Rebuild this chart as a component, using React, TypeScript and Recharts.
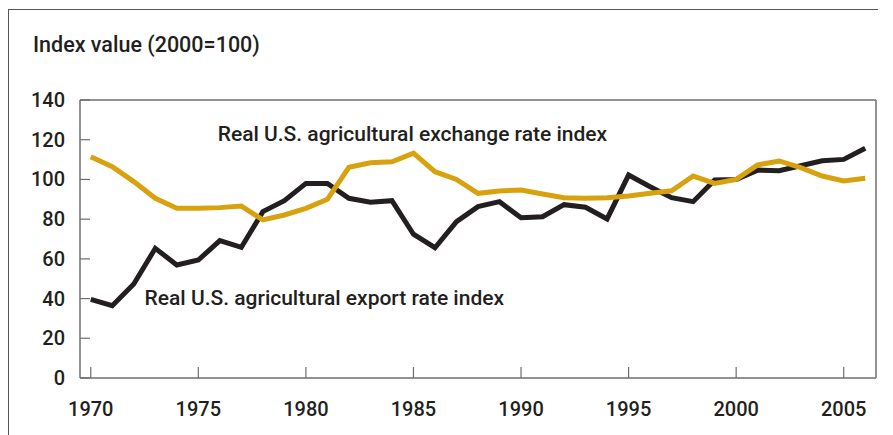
import React from 'react';
import { LineChart, Line, XAxis, YAxis, ReferenceDot } from 'recharts';

const years = [
  1970, 1971, 1972, 1973, 1974, 1975, 1976, 1977, 1978, 1979,
  1980, 1981, 1982, 1983, 1984, 1985, 1986, 1987, 1988, 1989,
  1990, 1991, 1992, 1993, 1994, 1995, 1996, 1997, 1998, 1999,
  2000, 2001, 2002, 2003, 2004, 2005, 2006,
];

const exchangeIndex = [
  111.4, 106.4, 98.9, 90.5, 85.5, 85.5, 85.8, 86.6, 79.6, 82.1,
  85.4, 90.0, 106.1, 108.4, 108.9, 113.2, 103.9, 100.0, 93.0, 94.2,
  94.7, 92.7, 90.8, 90.5, 90.8, 91.7, 93.0, 94.3, 101.7, 98.0,
  100.0, 107.3, 109.3, 105.9, 101.7, 99.2, 100.6,
];

const exportIndex = [
  39.6, 36.4, 47.3, 65.3, 56.9, 59.4, 69.2, 65.8, 83.8, 89.3,
  98.0, 98.0, 90.5, 88.5, 89.3, 72.4, 65.6, 78.7, 86.3, 88.8,
  80.7, 81.2, 87.3, 86.0, 80.1, 102.2, 96.3, 90.8, 88.8, 99.7,
  100.0, 104.7, 104.4, 106.9, 109.4, 110.1, 115.7,
];

const yTicks = [0, 20, 40, 60, 80, 100, 120, 140];
const xTicks = [1970, 1975, 1980, 1985, 1990, 1995, 2000, 2005];

const titleText = 'Index value (2000=100)';
const exchangeLabel = 'Real U.S. agricultural exchange rate index';
const exportLabel = 'Real U.S. agricultural export rate index';
const exchangeLabelAt = { year: 1975.9, value: 122.9 };
const exportLabelAt = { year: 1972.5, value: 40.3 };

const data = years.map((year, i) => ({
  year,
  exchange: exchangeIndex[i],
  exportIdx: exportIndex[i],
}));

const FONT = 'Roboto, "Noto Sans", sans-serif';
const TEXT = '#231f20';
const FRAME = '#6d6e71';
const GOLD = '#d8a20e';
const BLACK = '#231f20';

const YTick = (props: any) => {
  const { x, y, payload } = props;
  return (
    <g>
      <line x1={x} x2={x + 10} y1={y} y2={y} stroke={FRAME} strokeWidth={1.2} />
      <text x={x - 15} y={y} textAnchor="end" dominantBaseline="central" fontFamily={FONT} fontSize={20} fontWeight={500} fill={TEXT}>
        {payload.value}
      </text>
    </g>
  );
};

const XTick = (props: any) => {
  const { x, y, payload } = props;
  return (
    <g>
      <line x1={x} x2={x} y1={y - 11} y2={y} stroke={FRAME} strokeWidth={1.2} />
      <text x={x} y={y + 31} textAnchor="middle" dominantBaseline="central" fontFamily={FONT} fontSize={20} fontWeight={500} fill={TEXT}>
        {payload.value}
      </text>
    </g>
  );
};

const makeLabel = (text: string) => (props: any) => {
  const vb = props.viewBox || {};
  const x = (vb.x ?? 0) + (vb.width ?? 0) / 2;
  const y = (vb.y ?? 0) + (vb.height ?? 0) / 2;
  return (
    <text x={x} y={y} textAnchor="start" dominantBaseline="central" fontFamily={FONT} fontSize={21} fontWeight={500} fill={TEXT}>
      {text}
    </text>
  );
};

export default function App() {
  return (
    <div style={{ position: 'absolute', left: 0, top: 0, width: 893, height: 435, background: '#fff' }}>
      <div style={{ position: 'absolute', left: 8, top: 9, width: 869, height: 426, borderLeft: '1.5px solid #555', borderTop: '1.5px solid #555' }} />
      <div style={{ position: 'absolute', left: 33, top: 31, fontFamily: FONT, fontSize: 21.5, fontWeight: 500, color: TEXT, whiteSpace: 'nowrap', lineHeight: '28px' }}>
        {titleText}
      </div>
      <div style={{ position: 'absolute', left: 0, top: 0 }}>
        <LineChart width={893} height={435} data={data} margin={{ top: 99, right: 16, bottom: 56, left: 0 }}>
          <XAxis
            dataKey="year"
            type="number"
            domain={[1969.5, 2006.5]}
            ticks={xTicks}
            height={1}
            tickSize={0}
            tickMargin={0}
            tickLine={false}
            axisLine={{ stroke: FRAME, strokeWidth: 1.5 }}
            tick={<XTick />}
            interval={0}
            allowDataOverflow
          />
          <XAxis xAxisId="top" orientation="top" dataKey="year" type="number" domain={[1969.5, 2006.5]} height={1} tick={false} tickLine={false} axisLine={{ stroke: FRAME, strokeWidth: 1.5 }} />
          <YAxis
            domain={[0, 140]}
            ticks={yTicks}
            width={80}
            tickSize={0}
            tickMargin={0}
            tickLine={false}
            axisLine={{ stroke: FRAME, strokeWidth: 1.5 }}
            tick={<YTick />}
            interval={0}
          />
          <YAxis yAxisId="right" orientation="right" domain={[0, 140]} width={1} tick={false} tickLine={false} axisLine={{ stroke: FRAME, strokeWidth: 1.5 }} />
          <Line type="linear" dataKey="exportIdx" stroke={BLACK} strokeWidth={5} dot={false} activeDot={false} isAnimationActive={false} />
          <Line type="linear" dataKey="exchange" stroke={GOLD} strokeWidth={5} dot={false} activeDot={false} isAnimationActive={false} />
          <ReferenceDot x={exchangeLabelAt.year} y={exchangeLabelAt.value} r={0} fill="none" stroke="none" label={makeLabel(exchangeLabel)} />
          <ReferenceDot x={exportLabelAt.year} y={exportLabelAt.value} r={0} fill="none" stroke="none" label={makeLabel(exportLabel)} />
        </LineChart>
      </div>
    </div>
  );
}
